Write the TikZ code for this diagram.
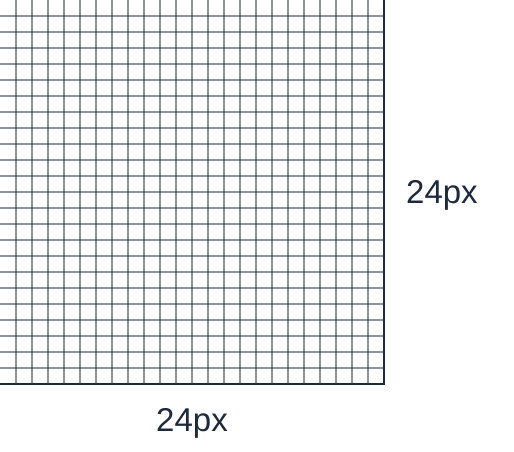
\documentclass[tikz,border=0pt]{standalone}
\usepackage{fontspec}
\setmainfont{Liberation Sans}
\definecolor{slate}{HTML}{1E293B}
\begin{document}
\begin{tikzpicture}[x=1pt,y=-1pt,
  gridline/.style={draw=slate,line width=1.2pt,opacity=0.5},
  borderline/.style={draw=slate,line width=1.2pt},
  dimlabel/.style={text=slate,font=\fontsize{33}{40}\selectfont,inner sep=0pt}]
\useasboundingbox[fill=white] (0,0) rectangle (514,451);
\foreach \k in {1,...,23}{
  \draw[gridline] (16*\k,0) -- (16*\k,384);
  \draw[gridline] (0,16*\k) -- (384,16*\k);
}
\coordinate (tr) at (384,0);
\coordinate (br) at (384,384);
\coordinate (bl) at (0,384);
\draw[borderline] (tr) -- (br) -- (bl);
\node[dimlabel,anchor=base west] (hlabel) at (406,203) {24px};
\node[dimlabel,anchor=base] (wlabel) at (192,431) {24px};
\end{tikzpicture}
\end{document}
